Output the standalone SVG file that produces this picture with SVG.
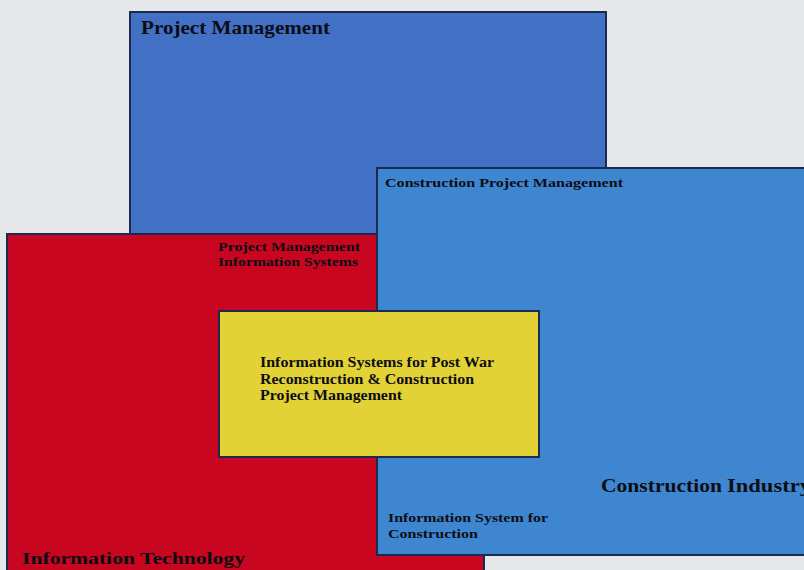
<svg xmlns="http://www.w3.org/2000/svg" width="804" height="570" viewBox="0 0 804 570">
<style>
.b{stroke:#1a2a50;stroke-width:2}
.t{font-family:"Liberation Serif","Times New Roman",serif;font-weight:bold;fill:#0d0d14;lengthAdjust:spacingAndGlyphs}
</style>
<rect width="804" height="570" fill="#e6e7ea"/>
<g id="project-management">
<rect class="b" x="130" y="12" width="476" height="240" fill="#4170c4"/>
<text class="t" x="141" y="34" font-size="18" textLength="189" lengthAdjust="spacingAndGlyphs">Project Management</text>
</g>
<g id="information-technology">
<rect class="b" x="7" y="234" width="477" height="345" fill="#c8061f"/>
<text class="t" x="22" y="564" font-size="17" textLength="223" lengthAdjust="spacingAndGlyphs">Information  Technology</text>
</g>
<g id="construction-industry">
<rect class="b" x="377" y="168" width="435" height="387" fill="#3e86cf"/>
<text class="t" x="385" y="187" font-size="13" textLength="238" lengthAdjust="spacingAndGlyphs">Construction Project Management</text>
<text class="t" x="601" y="492" font-size="19" textLength="121" lengthAdjust="spacingAndGlyphs">Construction</text>
<text class="t" x="727" y="492" font-size="19" textLength="84" lengthAdjust="spacingAndGlyphs" fill="#1e2f55">Industry</text>
</g>
<g id="pmis-label">
<text class="t" x="218" y="251" font-size="12" textLength="142" lengthAdjust="spacingAndGlyphs">Project Management</text>
<text class="t" x="218" y="266" font-size="12" textLength="140" lengthAdjust="spacingAndGlyphs">Information Systems</text>
</g>
<g id="isc-label">
<text class="t" x="388" y="522" font-size="13" textLength="160" lengthAdjust="spacingAndGlyphs">Information System for</text>
<text class="t" x="388" y="538" font-size="13" textLength="90" lengthAdjust="spacingAndGlyphs">Construction</text>
</g>
<g id="post-war">
<rect class="b" x="219" y="311" width="320" height="146" fill="#e2d236"/>
<text class="t" x="260" y="367" font-size="14" textLength="234" lengthAdjust="spacingAndGlyphs">Information Systems for Post War</text>
<text class="t" x="260" y="384" font-size="14" textLength="214" lengthAdjust="spacingAndGlyphs">Reconstruction &amp; Construction</text>
<text class="t" x="260" y="400" font-size="14" textLength="142" lengthAdjust="spacingAndGlyphs">Project Management</text>
</g>
<g id="connectors"/>
</svg>
